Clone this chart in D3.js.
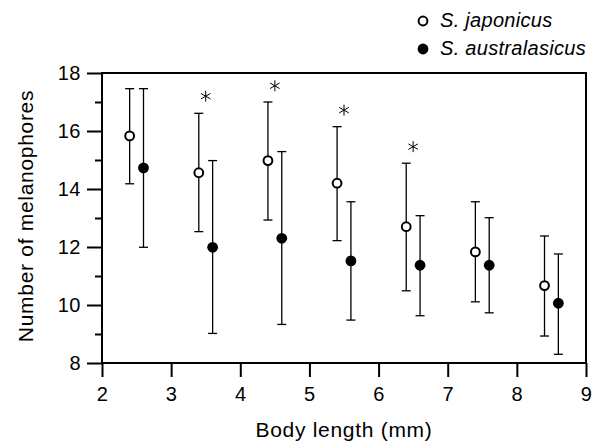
<!DOCTYPE html>
<meta charset="utf-8">
<style>
body { margin: 0; background: #fff; }
text { font-family: "Liberation Sans", Arial, sans-serif; }
</style>
<body>
<script src="https://cdn.jsdelivr.net/npm/d3@7"></script>
<script>
// data (mean, upper, lower)
var japX = [2.4, 3.4, 4.4, 5.4, 6.4, 7.4, 8.4];
var japMean = [15.83, 14.56, 14.98, 14.2, 12.7, 11.83, 10.67];
var japHi = [17.46, 16.61, 17.0, 16.15, 14.89, 13.56, 12.38];
var japLo = [14.18, 12.53, 12.93, 12.22, 10.49, 10.11, 8.93];

var ausX = [2.6, 3.6, 4.6, 5.6, 6.6, 7.6, 8.6];
var ausMean = [14.73, 11.99, 12.3, 11.52, 11.37, 11.37, 10.06];
var ausHi = [17.46, 14.98, 15.29, 13.56, 13.08, 13.01, 11.76];
var ausLo = [11.99, 9.02, 9.33, 9.48, 9.63, 9.73, 8.3];

// significance marks
var starX = [3.5, 4.5, 5.5, 6.5];
var starY = [17.2, 17.56, 16.72, 15.46];

var xTicks = [2, 3, 4, 5, 6, 7, 8, 9];
var yTicks = [8, 10, 12, 14, 16, 18];
var yMinor = [9, 11, 13, 15, 17];

var margin = {top: 73, right: 12, bottom: 79, left: 102},
    width = 598 - margin.left - margin.right,
    height = 442 - margin.top - margin.bottom;

var x = d3.scaleLinear().domain([2, 9]).range([0, width]);
var y = d3.scaleLinear().domain([8, 18]).range([height, 0]);

var svg = d3.select("body").append("svg")
    .attr("width", 598)
    .attr("height", 442)
  .append("g")
    .attr("transform", "translate(" + margin.left + "," + margin.top + ")");

// x axis
var gx = svg.append("g")
    .attr("transform", "translate(0," + height + ")")
    .call(d3.axisBottom(x).tickValues(xTicks).tickFormat(d3.format("d"))
      .tickSize(14).tickSizeOuter(0).tickPadding(10));
gx.selectAll("text").attr("font-size", "20px").attr("letter-spacing", "0.5px").attr("fill", "#000");

// y axis, major and minor ticks
var gy = svg.append("g")
    .call(d3.axisLeft(y).tickValues(yTicks).tickFormat(d3.format("d"))
      .tickSize(15).tickSizeOuter(0).tickPadding(6));
gy.selectAll("text").attr("font-size", "20px").attr("letter-spacing", "0.5px").attr("fill", "#000");
svg.append("g")
    .call(d3.axisLeft(y).tickValues(yMinor).tickSize(7).tickSizeOuter(0).tickFormat(""));

svg.selectAll(".domain").remove();
svg.selectAll(".tick line").attr("stroke", "#000").attr("stroke-width", 2);

// frame
svg.append("rect")
    .attr("width", width)
    .attr("height", height)
    .attr("fill", "none")
    .attr("stroke", "#000")
    .attr("stroke-width", 2);

function errorBars(xs, hi, lo) {
  var g = svg.append("g").attr("stroke", "#000").attr("stroke-width", 1.3);
  g.selectAll(".v").data(xs).enter().append("line")
      .attr("x1", function(d) { return x(d); })
      .attr("x2", function(d) { return x(d); })
      .attr("y1", function(d, i) { return y(hi[i]); })
      .attr("y2", function(d, i) { return y(lo[i]); });
  [hi, lo].forEach(function(arr) {
    g.selectAll(null).data(xs).enter().append("line")
        .attr("x1", function(d) { return x(d) - 4.5; })
        .attr("x2", function(d) { return x(d) + 4.5; })
        .attr("y1", function(d, i) { return y(arr[i]); })
        .attr("y2", function(d, i) { return y(arr[i]); });
  });
}
errorBars(japX, japHi, japLo);
errorBars(ausX, ausHi, ausLo);

svg.selectAll(".jap").data(japX).enter().append("circle")
    .attr("cx", function(d) { return x(d); })
    .attr("cy", function(d, i) { return y(japMean[i]); })
    .attr("r", 4.4)
    .attr("fill", "#fff")
    .attr("stroke", "#000")
    .attr("stroke-width", 2);

svg.selectAll(".aus").data(ausX).enter().append("circle")
    .attr("cx", function(d) { return x(d); })
    .attr("cy", function(d, i) { return y(ausMean[i]); })
    .attr("r", 5.4)
    .attr("fill", "#000");

svg.selectAll(".star").data(starX).enter().append("path")
    .attr("d", d3.symbol().type(d3.symbolAsterisk).size(85))
    .attr("transform", function(d, i) { return "translate(" + x(d) + "," + y(starY[i]) + ")"; })
    .attr("fill", "none")
    .attr("stroke", "#000")
    .attr("stroke-width", 1);

// axis titles
svg.append("text")
    .attr("x", width / 2)
    .attr("y", height + 74)
    .attr("text-anchor", "middle")
    .attr("font-size", "21px")
    .attr("letter-spacing", "0.7px")
    .text("Body length (mm)");

svg.append("text")
    .attr("transform", "rotate(-90)")
    .attr("x", -143)
    .attr("y", -69)
    .attr("text-anchor", "middle")
    .attr("font-size", "21px")
    .attr("letter-spacing", "0.7px")
    .text("Number of melanophores");

// legend
var legend = d3.select("svg").append("g");
legend.append("circle").attr("cx", 423).attr("cy", 21).attr("r", 4.4)
    .attr("fill", "#fff").attr("stroke", "#000").attr("stroke-width", 2);
legend.append("circle").attr("cx", 423).attr("cy", 49).attr("r", 5.4).attr("fill", "#000");
legend.append("text").attr("x", 440).attr("y", 27).attr("font-size", "20px")
    .attr("letter-spacing", "0.3px").attr("font-style", "italic").text("S. japonicus");
legend.append("text").attr("x", 440).attr("y", 55).attr("font-size", "20px")
    .attr("letter-spacing", "0.3px").attr("font-style", "italic").text("S. australasicus");
</script>
</body>
